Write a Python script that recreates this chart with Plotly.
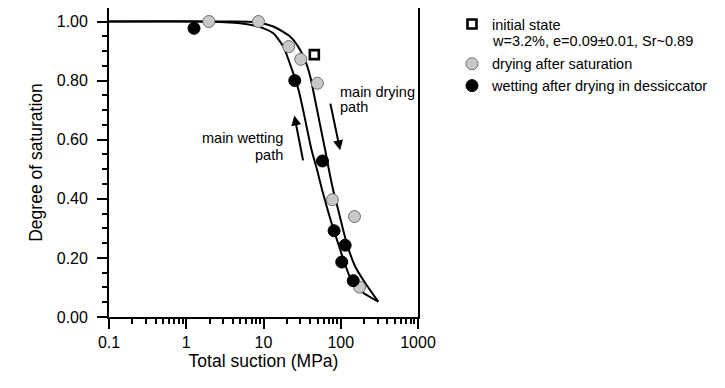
import plotly.graph_objects as go

# Data
wet_curve_x = [0.1, 1.5, 4.96, 9.01, 13.4, 18.06, 22.07, 28.44, 32.54, 36.87, 41.81, 49.41,
               57.39, 67.64, 80.89, 93.9, 110.7, 136.4, 195.3, 305.6]
wet_curve_y = [1.0, 1.0, 0.994, 0.981, 0.960, 0.915, 0.856, 0.768, 0.701, 0.633, 0.566, 0.498,
               0.430, 0.363, 0.295, 0.244, 0.187, 0.126, 0.082, 0.052]

dry_curve_x = [0.1, 3.68, 8.56, 13.4, 22.07, 29.74, 36.33, 40.70, 43.85, 49.41, 55.7, 62.78,
               70.31, 79.68, 92.53, 107.4, 121.1, 153.8, 207.3, 305.6]
dry_curve_y = [1.0, 1.0, 0.997, 0.983, 0.949, 0.904, 0.853, 0.809, 0.768, 0.701, 0.633, 0.566,
               0.498, 0.430, 0.363, 0.295, 0.244, 0.171, 0.115, 0.052]

init_x = [45.5]
init_y = [0.888]

dry_pts_x = [1.96, 8.6, 21.2, 30.3, 49.9, 78.0, 150.6, 175.0]
dry_pts_y = [1.0, 1.0, 0.915, 0.872, 0.791, 0.397, 0.340, 0.101]

wet_pts_x = [1.26, 25.4, 58.0, 82.0, 114.0, 103.0, 145.0]
wet_pts_y = [0.977, 0.800, 0.528, 0.292, 0.243, 0.186, 0.123]

x_tick_vals = [0.1, 1, 10, 100, 1000]
x_tick_text = ["0.1", "1", "10", "100", "1000"]

FONT = "Liberation Sans, Arial, sans-serif"

fig = go.Figure()

fig.add_trace(go.Scatter(x=wet_curve_x, y=wet_curve_y, mode="lines",
                         line=dict(color="black", width=2, shape="spline", smoothing=0.6),
                         showlegend=False, hoverinfo="skip"))
fig.add_trace(go.Scatter(x=dry_curve_x, y=dry_curve_y, mode="lines",
                         line=dict(color="black", width=2, shape="spline", smoothing=0.6),
                         showlegend=False, hoverinfo="skip"))

fig.add_trace(go.Scatter(x=init_x, y=init_y, mode="markers", legendgroup="a",
                         name="initial state",
                         marker=dict(symbol="square", size=9, color="white",
                                     line=dict(color="black", width=2.6))))
fig.add_trace(go.Scatter(x=dry_pts_x, y=dry_pts_y, mode="markers", legendgroup="b",
                         name="drying after saturation",
                         marker=dict(symbol="circle", size=12, color="#c8c8c8",
                                     line=dict(color="#6e6e6e", width=1))))
fig.add_trace(go.Scatter(x=wet_pts_x, y=wet_pts_y, mode="markers", legendgroup="b",
                         name="wetting after drying in dessiccator",
                         marker=dict(symbol="circle", size=12, color="black",
                                     line=dict(color="black", width=1))))

# second line of the "initial state" legend entry
fig.add_annotation(x=1.234, y=0.8933, xref="paper", yref="paper",
                   text="w=3.2%, e=0.09±0.01, Sr~0.89", showarrow=False,
                   xanchor="left", yanchor="middle",
                   font=dict(family=FONT, size=14.5, color="black"))

# arrows and labels (log axis: x given in log10 units)
fig.add_annotation(x=1.992, y=0.564, ax=1.862, ay=0.727, xref="x", yref="y",
                   axref="x", ayref="y", text="", showarrow=True, arrowhead=2,
                   arrowsize=1, arrowwidth=2, arrowcolor="black")
fig.add_annotation(x=1.399, y=0.682, ax=1.516, ay=0.525, xref="x", yref="y",
                   axref="x", ayref="y", text="", showarrow=True, arrowhead=2,
                   arrowsize=1, arrowwidth=2, arrowcolor="black")
for txt, yy in [("main drying", 0.763), ("path", 0.712)]:
    fig.add_annotation(x=1.97, y=yy, xref="x", yref="y", text=txt,
                       showarrow=False, xanchor="left", yanchor="middle",
                       font=dict(family=FONT, size=14.5, color="black"))
for txt, yy in [("main wetting", 0.605), ("path", 0.549)]:
    fig.add_annotation(x=1.279, y=yy, xref="x", yref="y", text=txt,
                       showarrow=False, xanchor="right", yanchor="middle",
                       font=dict(family=FONT, size=14.5, color="black"))

fig.update_xaxes(type="log", range=[-1, 3], tickvals=x_tick_vals, ticktext=x_tick_text,
                 automargin=False,
                 ticks="outside", ticklen=10, tickwidth=1.5, tickcolor="black",
                 showline=True, linecolor="black", linewidth=1.8, mirror=True,
                 showgrid=False, zeroline=False,
                 minor=dict(tickvals=[m * 10 ** e for e in range(-1, 3) for m in range(2, 10)],
                            ticks="outside", ticklen=5, tickwidth=1.5, tickcolor="black",
                            showgrid=False),
                 tickfont=dict(family=FONT, size=16, color="black"),
                 title=dict(text="Total suction (MPa)", standoff=4,
                            font=dict(family=FONT, size=17.5, color="black")))
fig.update_yaxes(range=[0, 1.0457], tickvals=[0, 0.2, 0.4, 0.6, 0.8, 1.0], tickformat=".2f",
                 automargin=False,
                 ticks="outside", ticklen=10, tickwidth=1.5, tickcolor="black",
                 showline=True, linecolor="black", linewidth=1.8, mirror=True,
                 showgrid=False, zeroline=False,
                 minor=dict(dtick=0.05, ticks="outside", ticklen=5, tickwidth=1.5,
                            tickcolor="black", showgrid=False),
                 ticklabelstandoff=6,
                 tickfont=dict(family=FONT, size=16, color="black"),
                 title=dict(text="Degree of saturation", standoff=10,
                            font=dict(family=FONT, size=17.5, color="black")))

fig.update_layout(width=717, height=380,
                  margin=dict(l=101, r=307, t=0, b=71, autoexpand=False),
                  paper_bgcolor="white", plot_bgcolor="white",
                  legend=dict(x=1.11, y=1.0, xanchor="left", yanchor="top",
                              font=dict(family=FONT, size=14.5, color="black"),
                              bgcolor="rgba(0,0,0,0)", tracegroupgap=18,
                              itemsizing="trace"),
                  showlegend=True)

fig.write_html("out.html")
